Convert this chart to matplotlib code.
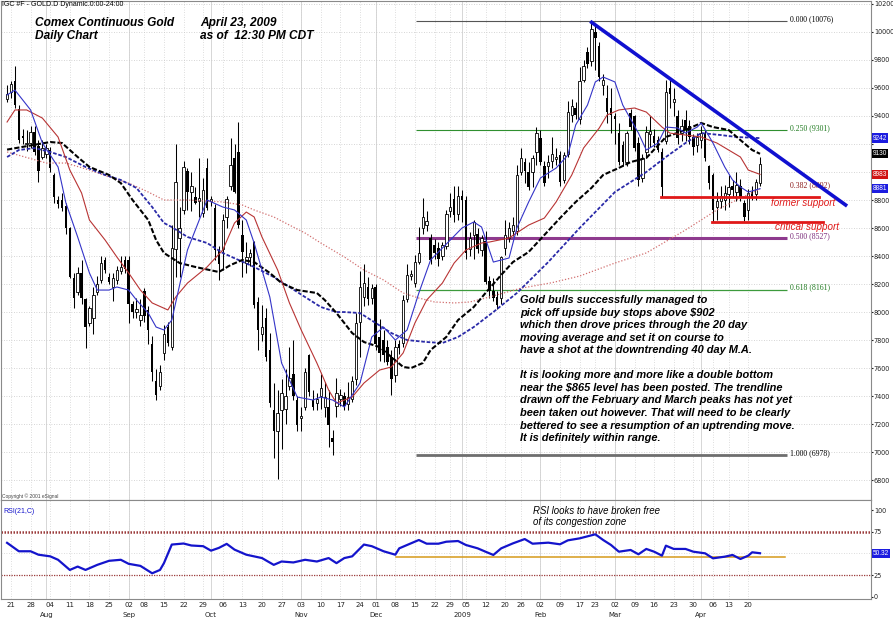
import numpy as np
import pandas as pd
import matplotlib
matplotlib.use("Agg")
import matplotlib.pyplot as plt
from matplotlib import transforms

# --- trading calendar (COMEX, holidays removed) ---
holidays = ["2008-09-01", "2008-11-27", "2008-12-25", "2009-01-01",
            "2009-01-19", "2009-02-16", "2009-04-10"]
dates = pd.bdate_range("2008-07-18", "2009-04-23")
dates = dates[~dates.isin(pd.to_datetime(holidays))]

# --- daily OHLC (price x10, as on the chart axis) ---
opens = [
    9520, 9570, 9650, 9450, 9260, 9200, 9210, 9285, 9185, 9110,
    9130, 9157, 8980, 8800, 8800, 8760, 8600, 8240, 8140, 8280,
    8090, 7920, 7960, 8140, 8230, 8370, 8250, 8180, 8230, 8290,
    8370, 8370, 8060, 8000, 7945, 8150, 8015, 7770, 7510, 7470,
    7710, 7890, 7750, 8450, 8530, 8730, 9010, 8860, 8820, 8790,
    8710, 9030, 8790, 8740, 8440, 8450, 8680, 8900, 9100, 9140,
    8550, 8350, 8390, 8500, 8070, 7840, 7960, 7730, 7300, 7150,
    7300, 7310, 7470, 7560, 7370, 7240, 7320, 7690, 7370, 7350,
    7400, 7320, 7320, 7100, 7330, 7380, 7400, 7340, 7380, 7520,
    7930, 8110, 8180, 8100, 8180, 7820, 7800, 7750, 7680, 7550,
    7770, 7780, 8090, 8260, 8210, 8360, 8600, 8620, 8530, 8480,
    8460, 8400, 8470, 8720, 8810, 8700, 8830, 8800, 8450, 8550,
    8560, 8440, 8510, 8220, 8150, 8110, 8100, 8460, 8530, 8580,
    8580, 9000, 9070, 9000, 9000, 9140, 9240, 9040, 9040, 9080,
    9090, 9120, 8940, 9130, 9410, 9460, 9380, 9660, 9860, 9790,
    10000, 9900, 9620, 9530, 9460, 9400, 9280, 9190, 9070, 9420,
    9400, 9210, 8960, 9140, 9270, 9260, 9230, 9140, 9220, 9600,
    9500, 9400, 9280, 9370, 9330, 9250, 9190, 9230, 9280, 9040,
    8980, 8750, 8790, 8800, 8840, 8900, 8860, 8900, 8780, 8730,
    8860, 8840, 8920]
highs = [
    9620, 9650, 9760, 9480, 9310, 9300, 9330, 9330, 9230, 9230,
    9200, 9180, 8990, 8830, 8850, 8780, 8610, 8280, 8320, 8370,
    8100, 8040, 8180, 8260, 8400, 8390, 8280, 8280, 8330, 8400,
    8400, 8400, 8080, 8100, 8090, 8170, 8040, 7830, 7590, 7620,
    7910, 7930, 8620, 9200, 8750, 9080, 9030, 9000, 8890, 9100,
    8960, 9100, 8830, 8770, 8470, 8700, 8830, 9240, 9200, 9360,
    8660, 8500, 8450, 8510, 8110, 8050, 8030, 7850, 7490, 7440,
    7520, 7590, 7750, 7800, 7400, 7320, 7600, 7700, 7440, 7420,
    7560, 7500, 7440, 7160, 7530, 7450, 7430, 7500, 7540, 7990,
    8290, 8340, 8250, 8200, 8200, 7950, 7870, 7800, 7730, 7800,
    7800, 8120, 8340, 8300, 8410, 8610, 8815, 8720, 8560, 8520,
    8500, 8500, 8730, 8850, 8900, 8900, 8870, 8830, 8570, 8660,
    8600, 8550, 8580, 8260, 8240, 8150, 8400, 8660, 8640, 8680,
    9050, 9170, 9100, 9070, 9120, 9320, 9300, 9080, 9120, 9250,
    9170, 9150, 9140, 9510, 9520, 9500, 9750, 9800, 9890, 10076,
    10040, 9930, 9700, 9620, 9600, 9420, 9350, 9220, 9290, 9450,
    9410, 9250, 9130, 9330, 9400, 9310, 9260, 9170, 9660, 9660,
    9600, 9440, 9380, 9440, 9370, 9270, 9280, 9330, 9300, 9050,
    8990, 8860, 8900, 8910, 8980, 8940, 9000, 8950, 8800, 8880,
    8900, 8950, 9110]
lows = [
    9500, 9530, 9460, 9210, 9200, 9150, 9170, 9120, 8930, 9090,
    9100, 9000, 8780, 8740, 8720, 8560, 8240, 8030, 8120, 8060,
    7740, 7900, 7840, 8120, 8210, 8280, 8200, 8080, 8200, 8270,
    8280, 7920, 7960, 7960, 7900, 7930, 7770, 7510, 7370, 7440,
    7660, 7760, 7730, 8250, 8250, 8700, 8730, 8720, 8770, 8680,
    8680, 8730, 8760, 8370, 8230, 8300, 8600, 8870, 8850, 8600,
    8250, 8280, 8330, 8030, 7730, 7790, 7650, 7320, 6960, 6810,
    7020, 7200, 7440, 7370, 7150, 7150, 7300, 7400, 7300, 7300,
    7310, 7250, 7040, 6980, 7250, 7330, 7300, 7300, 7360, 7480,
    7680, 8040, 8050, 8060, 7730, 7650, 7640, 7620, 7410, 7500,
    7700, 7750, 8070, 8230, 8180, 8340, 8560, 8580, 8340, 8380,
    8330, 8370, 8450, 8680, 8640, 8660, 8640, 8380, 8400, 8380,
    8420, 8400, 8200, 8100, 8080, 8020, 8060, 8410, 8500, 8540,
    8550, 8980, 8920, 8870, 8890, 9050, 9050, 8900, 8960, 9030,
    9050, 8900, 8920, 9110, 9360, 9380, 9340, 9640, 9740, 9760,
    9730, 9650, 9550, 9350, 9280, 9200, 9050, 9040, 9040, 9300,
    9150, 8900, 8930, 9100, 9180, 9180, 9140, 8820, 9200, 9460,
    9400, 9200, 9220, 9220, 9200, 9120, 9140, 9170, 9080, 8880,
    8643, 8660, 8740, 8730, 8750, 8820, 8790, 8790, 8650, 8660,
    8800, 8800, 8900]
closes = [
    9560, 9630, 9480, 9230, 9240, 9210, 9285, 9140, 9010, 9170,
    9170, 9030, 8820, 8770, 8740, 8600, 8250, 8100, 8280, 8100,
    7890, 8030, 8120, 8200, 8350, 8300, 8215, 8240, 8300, 8320,
    8310, 8060, 8000, 8020, 7980, 7970, 7870, 7570, 7410, 7570,
    7840, 7780, 8460, 8930, 8600, 9036, 8860, 8900, 8780, 8815,
    8870, 8745, 8810, 8440, 8340, 8660, 8810, 9050, 8860, 8620,
    8430, 8390, 8420, 8050, 7870, 7890, 7680, 7350, 7150, 7280,
    7420, 7400, 7530, 7400, 7190, 7260, 7570, 7430, 7320, 7380,
    7460, 7390, 7190, 7070, 7420, 7410, 7330, 7390, 7510, 7920,
    8180, 8210, 8090, 8170, 7770, 7710, 7690, 7640, 7520, 7750,
    7740, 8086, 8265, 8270, 8360, 8420, 8680, 8650, 8370, 8420,
    8380, 8480, 8700, 8750, 8690, 8830, 8800, 8420, 8530, 8640,
    8450, 8530, 8215, 8150, 8100, 8050, 8390, 8550, 8600, 8620,
    8980, 9100, 9010, 8890, 9100, 9280, 9070, 8920, 9070, 9130,
    9110, 8930, 9120, 9430, 9470, 9410, 9650, 9760, 9770, 10020,
    9960, 9680, 9660, 9430, 9410, 9380, 9070, 9070, 9280, 9320,
    9170, 8940, 9100, 9285, 9290, 9210, 9160, 8890, 9570, 9560,
    9520, 9240, 9330, 9300, 9250, 9180, 9250, 9280, 9100, 8920,
    8730, 8790, 8830, 8850, 8890, 8870, 8910, 8820, 8680, 8850,
    8820, 8930, 9060]

# --- moving averages (bar number, value) ---
ma_fast_k = [0, 2, 6, 9, 13, 15, 18, 21, 23, 26, 28, 31, 33, 36, 38, 40, 42, 46, 51, 55,
             58, 61, 63, 67, 70, 74, 78, 80, 83, 86, 90, 93, 96, 99, 102, 105, 108, 113,
             116, 119, 121, 124, 128, 130, 133, 136, 140, 143, 145, 148, 150, 152, 155,
             157, 161, 163, 166, 168, 171, 173, 176, 177, 180, 183, 185, 187, 189, 192]
ma_fast_v = [9550, 9585, 9443, 9207, 9036, 8779, 8536, 8279, 8157, 8157, 8179, 8157, 8086,
             7993, 7893, 7872, 7943, 8443, 8800, 8750, 8729, 8657, 8493, 8107, 7636, 7393,
             7372, 7393, 7372, 7322, 7493, 7822, 7893, 7800, 7872, 8136, 8372, 8514, 8600,
             8643, 8607, 8357, 8386, 8600, 8786, 8957, 9028, 9121, 9336, 9478, 9643, 9678,
             9643, 9478, 9278, 9157, 9207, 9321, 9314, 9278, 9321, 9350, 9207, 9036, 8943,
             8893, 8857, 8881]
ma20_k = [0, 2, 5, 9, 13, 16, 19, 21, 25, 28, 31, 34, 37, 41, 43, 46, 51, 55, 58, 61,
          63, 65, 69, 72, 75, 79, 82, 84, 88, 91, 95, 98, 101, 104, 107, 111, 114, 117,
          121, 123, 128, 133, 137, 140, 144, 147, 151, 153, 156, 160, 163, 167, 169, 173,
          177, 181, 184, 187, 189, 192]
ma20_v = [9357, 9443, 9443, 9385, 9250, 9014, 8850, 8657, 8514, 8393, 8279, 8157, 8065,
          8015, 8107, 8207, 8322, 8443, 8636, 8714, 8679, 8536, 8300, 8065, 7872, 7636,
          7443, 7350, 7393, 7493, 7586, 7608, 7708, 7922, 8086, 8207, 8350, 8443, 8493,
          8500, 8529, 8621, 8671, 8786, 8979, 9171, 9314, 9407, 9443, 9457, 9428, 9321,
          9278, 9264, 9250, 9207, 9157, 9107, 9014, 8983]
ma40_k = [0, 11, 14, 18, 21, 26, 29, 32, 36, 38, 40, 44, 48, 54, 57, 60, 63, 67, 70, 74,
          79, 81, 84, 88, 91, 95, 98, 101, 103, 106, 108, 112, 115, 119, 122, 126, 129,
          133, 137, 141, 145, 149, 152, 156, 159, 163, 168, 173, 177, 180, 184, 187, 190,
          192]
ma40_v = [9160, 9214, 9207, 9107, 9036, 8979, 8921, 8800, 8657, 8514, 8422, 8350, 8322,
          8286, 8336, 8372, 8357, 8279, 8207, 8157, 8136, 8086, 7993, 7850, 7786, 7750,
          7679, 7608, 7600, 7636, 7729, 7822, 7943, 8036, 8136, 8265, 8357, 8429, 8550,
          8671, 8786, 8886, 8979, 9029, 9071, 9100, 9250, 9300, 9350, 9321, 9300, 9228,
          9157, 9130]
ma50_k = [0, 3, 7, 11, 15, 20, 25, 29, 33, 37, 40, 42, 46, 51, 55, 59, 63, 68, 72, 76,
          80, 84, 86, 90, 94, 98, 102, 107, 111, 115, 119, 124, 130, 138, 146, 155, 163,
          168, 173, 177, 182, 186, 192]
ma50_v = [9107, 9157, 9171, 9143, 9107, 9036, 8979, 8943, 8886, 8750, 8636, 8607, 8536,
          8493, 8422, 8372, 8322, 8250, 8179, 8107, 8036, 8000, 8000, 7993, 7922, 7850,
          7800, 7786, 7779, 7822, 7893, 8000, 8136, 8357, 8600, 8857, 9000, 9107, 9207,
          9278, 9264, 9250, 9242]
ma100_k = [0, 10, 15, 21, 26, 31, 36, 40, 46, 55, 60, 63, 68, 72, 76, 80, 86, 91, 96,
           101, 105, 109, 114, 118, 122, 131, 139, 146, 155, 163, 173, 181, 186, 192]
ma100_v = [9143, 9064, 9064, 9014, 8964, 8921, 8857, 8800, 8800, 8786, 8764, 8729, 8679,
           8621, 8564, 8493, 8393, 8300, 8229, 8136, 8100, 8072, 8065, 8072, 8100, 8170,
           8210, 8257, 8350, 8422, 8586, 8729, 8800, 8879]

# --- RSI(21) ---
rsi_k = [0, 3, 6, 8, 11, 13, 16, 18, 20, 23, 26, 29, 31, 34, 37, 39, 40, 42, 45, 47,
         50, 52, 54, 56, 58, 61, 65, 68, 70, 73, 76, 79, 82, 84, 86, 88, 91, 93, 96, 99,
         100, 102, 105, 107, 110, 112, 115, 117, 120, 122, 124, 126, 129, 132, 134, 138,
         141, 143, 146, 150, 152, 154, 156, 159, 161, 163, 165, 167, 168, 170, 173, 175,
         178, 180, 183, 185, 187, 189, 190, 192]
rsi_v = [62.4, 52.6, 52.6, 48.6, 46.7, 42.7, 30.9, 34.8, 30.9, 36.8, 41.5, 42.7, 38.0,
         35.6, 27.0, 30.9, 38.8, 60.4, 61.6, 59.3, 58.5, 53.3, 56.5, 61.2, 54.5, 48.6,
         44.7, 36.8, 40.7, 39.6, 42.7, 40.7, 44.7, 38.8, 44.7, 46.7, 60.4, 58.5, 52.6,
         48.6, 56.0, 59.9, 65.7, 61.4, 61.4, 63.7, 64.5, 59.9, 56.0, 52.1, 48.3, 56.0,
         61.8, 66.8, 61.4, 62.6, 60.7, 65.3, 67.6, 72.3, 65.7, 59.9, 52.1, 54.1, 49.1,
         55.3, 52.1, 47.5, 59.1, 55.3, 55.3, 52.1, 50.2, 44.4, 46.3, 48.3, 43.6, 47.5,
         51.4, 50.32]

fib_labels = ["0.000 (10076)", "0.250 (9301)", "0.382 (8892)", "0.500 (8527)",
              "0.618 (8161)", "1.000 (6978)"]
fib_prices = [10076, 9301, 8892, 8527, 8161, 6978]
price_ticks = list(range(6800, 10201, 200))
hidden_ticks = [9000, 9200]          # covered by the value boxes on the original
rsi_ticks = [0, 25, 75, 100]
last_ma = [(9242, "#1c1ce0"), (9130, "#000000"), (8983, "#d01414"), (8881, "#1c1ce0")]

note_lines = [
    "Gold bulls successfully managed to",
    "pick off upside buy stops above $902",
    "which then drove prices through the 20 day",
    "moving average and set it on course to",
    "have a shot at the downtrending 40 day M.A.",
    "",
    "It is looking more and more like a double bottom",
    "near the $865 level has been posted. The trendline",
    "drawn off the February and March peaks has not yet",
    "been taken out however. That will need to be clearly",
    "bettered to see a resumption of an uptrending move.",
    "It is definitely within range.",
]

W, H = 893, 620
SANS = ["Liberation Sans", "DejaVu Sans"]
SERIF = ["Liberation Serif", "DejaVu Serif"]

fig = plt.figure(figsize=(W / 100, H / 100), dpi=100)
ax = fig.add_axes([1 / W, 120 / H, 870 / W, 499 / H])
axr = fig.add_axes([1 / W, 21 / H, 870 / W, 99 / H], sharex=ax)

k = np.arange(len(dates))
o = np.array(opens)
hi = np.array(highs)
lo = np.array(lows)
c = np.array(closes)
up = c >= o

# calendar ticks
per_w = dates.to_period("W")
per_m = dates.to_period("M")
week_k = [i for i in range(1, len(dates)) if per_w[i] != per_w[i - 1]]
month_k = [i for i in range(1, len(dates)) if per_m[i] != per_m[i - 1]]

for a in (ax, axr):
    a.set_xlim(-1.55, 220.3)
    for s in a.spines.values():
        s.set_color("#8a8a8a")
        s.set_linewidth(0.8)
    a.set_xticks(week_k)
    a.grid(axis="x", linestyle=(0, (1, 2)), color="#d2d2d2", linewidth=0.6)
    for m in month_k:
        a.axvline(m, color="#d0d0d0", linewidth=0.6, zorder=0)
    a.yaxis.tick_right()
    a.tick_params(axis="y", length=1.5, pad=0.6, labelsize=4.7, colors="#222222")

# price pane
ax.set_ylim(6658, 10221)
ax.set_yticks(price_ticks)
ax.set_yticklabels(["" if t in hidden_ticks else str(t) for t in price_ticks])
ax.grid(axis="y", linestyle=(0, (1, 2)), color="#c8c8c8", linewidth=0.6)
ax.tick_params(axis="x", length=0, labelbottom=False)

ax.vlines(k, lo, hi, color="black", linewidth=0.75, zorder=3)
ax.bar(k[up], (c - o)[up], bottom=o[up], width=0.62, facecolor="white",
       edgecolor="black", linewidth=0.6, zorder=4)
ax.bar(k[~up], (o - c)[~up], bottom=c[~up], width=0.62, color="black", zorder=4)

ax.plot(ma100_k, ma100_v, color="#d27070", linewidth=0.9, linestyle=(0, (1, 1.5)), zorder=5)
ax.plot(ma50_k, ma50_v, color="#2a2aa8", linewidth=1.3, linestyle=(0, (2, 1)), zorder=5)
ax.plot(ma40_k, ma40_v, color="black", linewidth=1.5, linestyle=(0, (2.5, 1)), zorder=5)
ax.plot(ma20_k, ma20_v, color="#b83434", linewidth=0.8, zorder=5)
ax.plot(ma_fast_k, ma_fast_v, color="#3434c8", linewidth=0.8, zorder=5)

# fibonacci retracement
fib_style = [("#555555", 0.8, "black"), ("#2f8f2f", 0.8, "#1f7a1f"),
             (None, 0, "#8b1a1a"), ("#8e3a8e", 2.2, "#7a2a7a"),
             ("#3c9a3c", 0.9, "#1f7a1f"), ("#6e6e6e", 2.0, "black")]
for lab, p, (lc, lw, tc) in zip(fib_labels, fib_prices, fib_style):
    if lc:
        ax.plot([104.2, 198.9], [p, p], color=lc, linewidth=lw, zorder=2,
                solid_capstyle="butt")
    ax.text(199.6, p + 14, lab, fontsize=5.6, color=tc, family=SERIF,
            va="center", ha="left", zorder=6)

# trendline and support lines
ax.plot([148.7, 214.2], [10076, 8757], color="#1010d0", linewidth=2.6,
        solid_capstyle="butt", zorder=6)
ax.plot([166.8, 207.1], [8821, 8821], color="#e01818", linewidth=2.0, zorder=6)
ax.plot([179.8, 208.1], [8643, 8643], color="#e01818", linewidth=2.0, zorder=6)
ax.text(194.8, 8779, "former support", color="#e01818", fontsize=7.1,
        style="italic", family=SANS, va="center", ha="left", zorder=6)
ax.text(195.8, 8606, "critical support", color="#e01818", fontsize=7.1,
        style="italic", family=SANS, va="center", ha="left", zorder=6)

# last values of the averages on the price scale
trans_r = transforms.blended_transform_factory(ax.transAxes, ax.transData)
for val, col in last_ma:
    ax.text(1.002, val, str(val), transform=trans_r, fontsize=4.7, color="white",
            family=SANS, va="center", ha="left", clip_on=False, zorder=10,
            bbox=dict(boxstyle="square,pad=0.18", fc=col, ec="none"))

# RSI pane
axr.set_ylim(-2.9, 112.2)
axr.set_yticks(rsi_ticks)
axr.axhline(75, color="#9a3a3a", linewidth=1.8, linestyle=(0, (0.6, 0.6)))
axr.axhline(25, color="#9a3a3a", linewidth=0.9, linestyle=(0, (1, 1)))
axr.axhline(50, color="#d0d0d0", linewidth=0.6, linestyle=(0, (1, 2)))
axr.plot([99.1, 198.4], [46.5, 46.5], color="#d69a1a", linewidth=1.1, zorder=3)
axr.plot(rsi_k, rsi_v, color="#1414cc", linewidth=1.6, zorder=4)
axr.text(1.002, 50.32, "50.32", transform=transforms.blended_transform_factory(
    axr.transAxes, axr.transData), fontsize=4.7, color="white", family=SANS,
    va="center", ha="left", clip_on=False, zorder=10,
    bbox=dict(boxstyle="square,pad=0.18", fc="#1c1ce0", ec="none"))
axr.set_xticks(week_k)
axr.set_xticklabels([f"{dates[i].day:02d}" for i in week_k])
axr.tick_params(axis="x", length=0, pad=2.5, labelsize=5, colors="#222222")
for m in month_k:
    d = dates[m]
    name = "2009" if d.month == 1 else d.strftime("%b")
    axr.annotate(name, xy=(m, 0), xycoords=("data", "axes fraction"),
                 xytext=(0, -11.8), textcoords="offset points", fontsize=5,
                 ha="center", va="center", color="#222222", annotation_clip=False)

axr.text(134.2, 99.4, "RSI looks to have broken free", fontsize=6.9, style="italic",
         family=SANS, va="center", ha="left")
axr.text(134.2, 86.6, "of its congestion zone", fontsize=6.9, style="italic",
         family=SANS, va="center", ha="left")
axr.text(0.003, 0.88, "RSI(21,C)", transform=axr.transAxes, fontsize=5,
         color="#1414cc", family=SANS, va="center", ha="left")


def fx(x, y):
    return x / W, 1 - y / H


fig.text(*fx(2, 5), "IGC #F - GOLD.D Dynamic.0:00-24:00", fontsize=5, family=SANS,
         va="center", ha="left")
fig.text(*fx(2, 496), "Copyright \u00a9 2001 eSignal", fontsize=3.5, family=SANS,
         va="center", ha="left", color="#444444")
for x, y, s in [(35, 23, "Comex Continuous Gold"), (35, 36, "Daily Chart"),
                (200, 23, "April 23, 2009"), (200, 36, "as of  12:30 PM CDT")]:
    fig.text(*fx(x, y), s, fontsize=8.6, weight="bold", style="italic",
             family=SANS, va="center", ha="left")
fig.text(*fx(520, 295), "\n".join(note_lines), fontsize=7.9, weight="bold",
         style="italic", family=SANS, va="top", ha="left", linespacing=1.32)

fig.savefig("out.png", dpi=100)
